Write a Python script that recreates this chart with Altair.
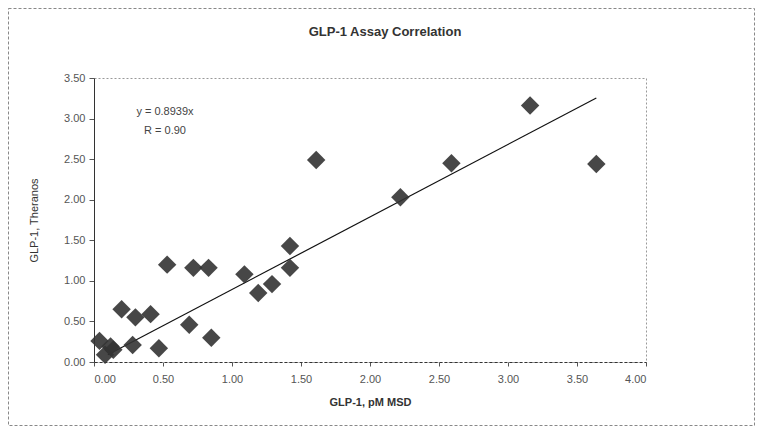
import altair as alt
import pandas as pd

msd = [0.04, 0.12, 0.08, 0.14, 0.20, 0.30, 0.41, 0.28, 0.47, 0.53, 0.72, 0.83,
       0.69, 0.85, 1.09, 1.19, 1.29, 1.42, 1.42, 1.61, 2.22, 2.59, 3.16, 3.64]
theranos = [0.26, 0.19, 0.09, 0.15, 0.65, 0.55, 0.59, 0.21, 0.17, 1.20, 1.16, 1.16,
            0.46, 0.30, 1.08, 0.85, 0.96, 1.16, 1.43, 2.49, 2.03, 2.45, 3.16, 2.44]
slope = 0.8939
fit_x = [0.10, 3.64]
annot = "y = 0.8939x\nR = 0.90"
title_text = "GLP-1 Assay Correlation"

pts = pd.DataFrame({"msd": msd, "theranos": theranos})
fit = pd.DataFrame({"msd": fit_x})
fit["theranos"] = [slope * v for v in fit_x]
ann = pd.DataFrame({"t": [annot], "title": [title_text]})

font = "Liberation Sans"
xs = alt.Scale(domain=[0, 4], nice=False, zero=False)
ys = alt.Scale(domain=[0, 3.5], nice=False, zero=False)

xax = alt.Axis(title="GLP-1, pM MSD", format=".2f", values=[0, 0.5, 1, 1.5, 2, 2.5, 3, 3.5, 4],
               grid=False, labelFont=font, labelFontSize=11, labelColor="#555",
               titleFont=font, titleFontSize=11, titleFontWeight="bold", titleColor="#333",
               titlePadding=12, tickSize=4, domainColor="#333", domainDash=[3, 2],
               tickColor="#555", labelPadding=7)
yax = alt.Axis(title="GLP-1, Theranos", format=".2f", values=[0, 0.5, 1, 1.5, 2, 2.5, 3, 3.5],
               grid=False, labelFont=font, labelFontSize=11, labelColor="#555",
               titleFont=font, titleFontSize=11, titleFontWeight="normal", titleColor="#333",
               titlePadding=24, tickSize=5, domainColor="#333", tickColor="#555", labelPadding=4)

points = alt.Chart(pts).mark_point(shape="diamond", filled=True, size=340,
                                    color="#333333", opacity=0.9).encode(
    x=alt.X("msd:Q", scale=xs, axis=xax),
    y=alt.Y("theranos:Q", scale=ys, axis=yax),
)

line = alt.Chart(fit).mark_line(color="#111", strokeWidth=1.2).encode(
    x=alt.X("msd:Q", scale=xs),
    y=alt.Y("theranos:Q", scale=ys),
)

text = alt.Chart(ann).mark_text(font=font, fontSize=11, color="#444", align="center",
                                baseline="top", lineBreak="\n", lineHeight=19).encode(
    x=alt.value(71),
    y=alt.value(28),
    text="t:N",
)

title = alt.Chart(ann).mark_text(font=font, fontSize=13, fontWeight="bold", color="#333",
                                 align="center", baseline="middle", clip=False).encode(
    x=alt.value(291),
    y=alt.value(-46),
    text="title:N",
)

border = alt.Chart(ann).mark_rect(fill=None, stroke="#888", strokeDash=[3, 2],
                                   strokeWidth=1, clip=False).encode(
    x=alt.value(-85.5), x2=alt.value(660.5), y=alt.value(-69.5), y2=alt.value(347.5)
)

chart = alt.layer(border, line, points, text, title).properties(
    width=552, height=284,
    autosize=alt.AutoSizeParams(type="none"),
    padding={"left": 86, "top": 70, "right": 109, "bottom": 65},
).configure_view(stroke="#999", strokeDash=[2, 2], strokeWidth=1)

chart.save("out.html", embed_options={"renderer": "svg", "actions": False})
